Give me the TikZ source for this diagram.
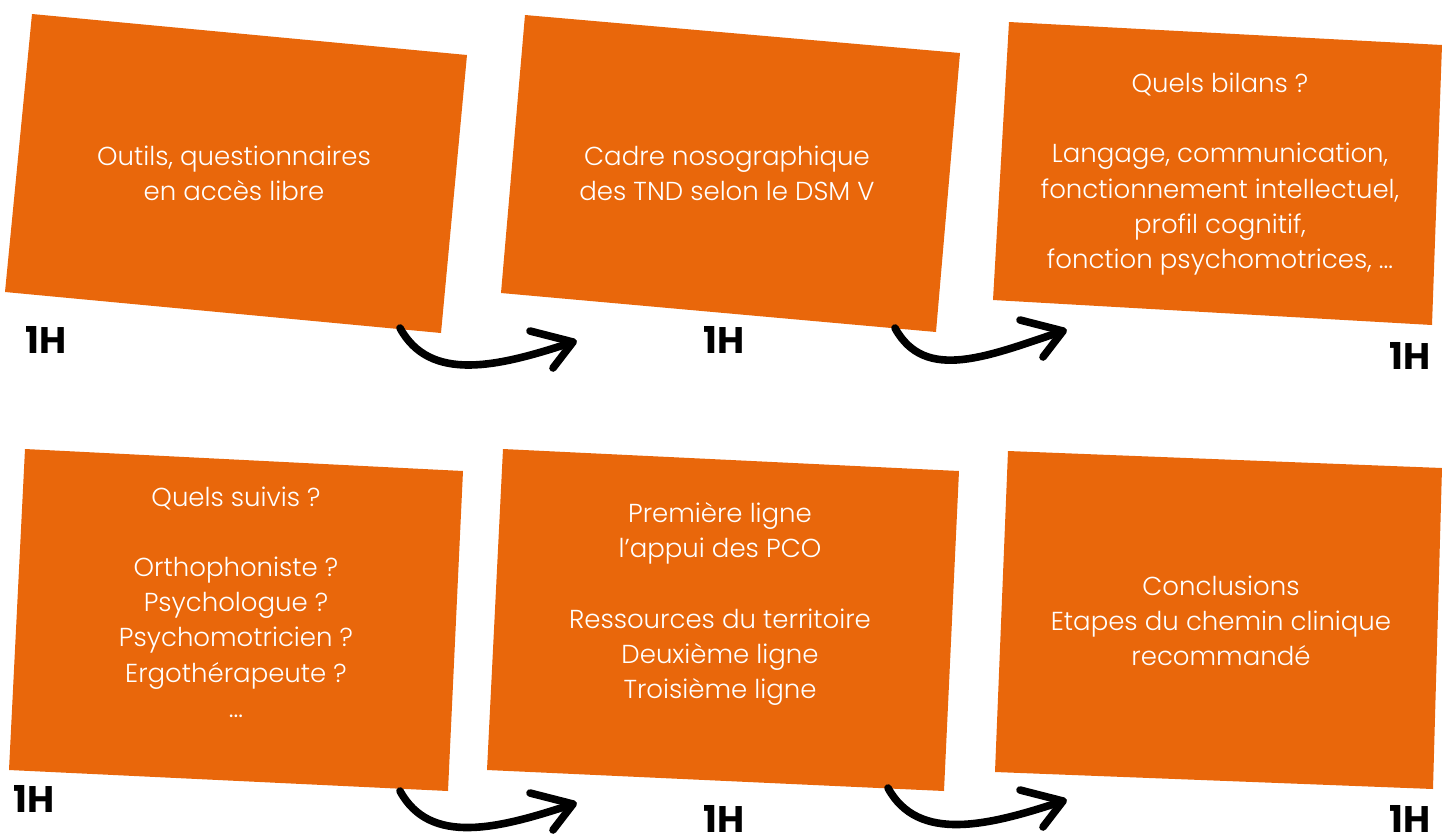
\documentclass[tikz,border=0pt]{standalone}
\usepackage{fontspec}
\setmainfont{Poppins}[UprightFont={* Light}, BoldFont={* Bold}]
\usetikzlibrary{positioning}
\definecolor{tndorange}{HTML}{E9670B}

\begin{document}
\begin{tikzpicture}[x=0.5pt, y=-0.5pt,
  card/.style={fill=tndorange},
  cardtext/.style={text=white, align=center, font=\fontsize{13}{17.6}\selectfont},
  dur/.style={inner sep=1pt, text height=13pt, text depth=0pt, font=\fontsize{18.5}{20}\selectfont\bfseries},
  swoosh/.style={line width=3.8pt, line cap=round},
  barb/.style={line width=3.8pt, line cap=round, line join=round}]

\useasboundingbox (0,0) rectangle (1442,837);

% top row
\fill[card] (32,14) -- (467,55) -- (441,333) -- (5,292) -- cycle;
\fill[card] (525,15) -- (960,53) -- (936,332) -- (501,293) -- cycle;
\fill[card] (1009,22) -- (1442,45) -- (1432,325) -- (993,300) -- cycle;

\node[cardtext] (t1) at (234,173) {Outils, questionnaires\\en accès libre};
\node[cardtext] (t2) at (727,173) {Cadre nosographique\\des TND selon le DSM V};
\node[cardtext] (t3) at (1220,174) {Quels bilans ?\\[17.6pt]Langage, communication,\\fonctionnement intellectuel,\\profil cognitif,\\fonction psychomotrices, ...};

\node[dur] (h1) at (46,340) {1H};
\node[dur] (h2) at (724,340) {1H};
\node[dur] (h3) at (1410,356) {1H};

% bottom row
\fill[card] (25,449) -- (463,471) -- (448,791) -- (9,770) -- cycle;
\fill[card] (503,449) -- (959,471) -- (944,791) -- (487,770) -- cycle;
\fill[card] (1008,451) -- (1442,468) -- (1433,789) -- (995,772) -- cycle;

\node[cardtext] (t4) at (236,602) {Quels suivis ?\\[17.6pt]Orthophoniste ?\\Psychologue ?\\Psychomotricien ?\\Ergothérapeute ?\\...};
\node[cardtext] (t5) at (720,604) {Première ligne\\l'appui des PCO\\[17.6pt]Ressources du territoire\\Deuxième ligne\\Troisième ligne};
\node[cardtext] (t6) at (1221,621) {Conclusions\\Etapes du chemin clinique\\recommandé};

\node[dur] (h4) at (34,799) {1H};
\node[dur] (h5) at (724,819) {1H};
\node[dur] (h6) at (1410,819) {1H};

% arrows
\coordinate (s1) at (400,328);
\coordinate (e1) at (573,342);
\coordinate (s2) at (895,328);
\coordinate (e2) at (1063,331);
\coordinate (s3) at (400,791);
\coordinate (e3) at (573,804);
\coordinate (s4) at (888,788);
\coordinate (e4) at (1063,801);

\draw[swoosh] (s1) .. controls +(30,55) and +(-75,25) .. (e1);
\draw[barb] (e1) +(-43,-11) -- (e1) -- +(-20,26);
\draw[swoosh] (s2) .. controls +(30,55) and +(-75,25) .. (e2);
\draw[barb] (e2) +(-43,-11) -- (e2) -- +(-20,26);
\draw[swoosh] (s3) .. controls +(30,55) and +(-75,25) .. (e3);
\draw[barb] (e3) +(-43,-11) -- (e3) -- +(-20,26);
\draw[swoosh] (s4) .. controls +(30,55) and +(-75,25) .. (e4);
\draw[barb] (e4) +(-43,-11) -- (e4) -- +(-20,26);
\end{tikzpicture}
\end{document}
